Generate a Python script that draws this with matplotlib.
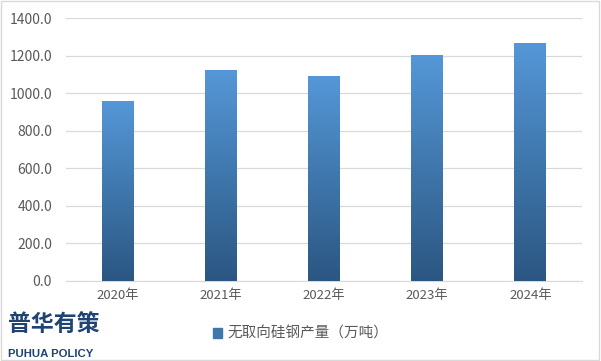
import numpy as np
import matplotlib.pyplot as plt
from matplotlib.colors import LinearSegmentedColormap
from matplotlib.patches import Rectangle

plt.rcParams['font.family'] = ['Noto Sans CJK SC', 'DejaVu Sans']

years = ["2020年", "2021年", "2022年", "2023年", "2024年"]
output = [958, 1123, 1091, 1203, 1267]
series_name = "无取向硅钢产量（万吨）"

fig = plt.figure(figsize=(6.01, 3.61), dpi=100)
ax = fig.add_axes([66/601, 1 - 281/361, (582-66)/601, (281-18)/361])

x = np.arange(len(years))
bars = ax.bar(x, output, width=0.31, color='none', zorder=3)

# vertical gradient inside each bar
cmap = LinearSegmentedColormap.from_list("blu", ["#2b5682", "#3f77ac", "#5597d8"])
grad = np.linspace(0, 1, 256).reshape(-1, 1)
for b in bars:
    x0, w, h = b.get_x(), b.get_width(), b.get_height()
    im = ax.imshow(grad, cmap=cmap, origin='lower', aspect='auto',
                   extent=[x0, x0 + w, 0, h], zorder=3)
    im.set_clip_path(b)

ax.set_xlim(-0.5, len(years) - 0.5)
ax.set_ylim(0, 1400)
ax.set_yticks(np.arange(0, 1401, 200))
ax.set_yticklabels([f"{v:.1f}" for v in np.arange(0, 1401, 200)])
ax.set_xticks(x)
ax.set_xticklabels(years)
ax.yaxis.grid(True, color='#d9d9d9', linewidth=0.9, zorder=0)
ax.set_axisbelow(True)
for s in ['top', 'right', 'left']:
    ax.spines[s].set_visible(False)
ax.spines['bottom'].set_color('#d9d9d9')
ax.tick_params(axis='y', length=0, labelsize=10, colors='#595959', pad=10)
ax.tick_params(axis='x', length=0, labelsize=9.5, colors='#595959', pad=6)

# legend
handle = Rectangle((0, 0), 1, 1, color='#3f77ac')
fig.legend([handle], [series_name], loc='center', bbox_to_anchor=(0.5, 1 - 334/361),
           frameon=False, fontsize=10.5, handlelength=0.6, handleheight=0.6,
           handletextpad=0.4, labelcolor='#595959')

# logo
fig.text(8/601, 1 - 331/361, "普华有策", fontsize=16.5, fontweight='heavy',
         color='#1f4373', va='baseline')
fig.text(8/601, 1 - 357/361, "PUHUA POLICY", fontsize=8.2, fontweight='bold',
         color='#1f4373', va='baseline', family=['Liberation Sans', 'DejaVu Sans'])

# outer border
fig.patches.append(Rectangle((0.002, 0.003), 0.995, 0.994, transform=fig.transFigure,
                             fill=False, edgecolor='#d9d9d9', linewidth=1))

fig.savefig("out.png", dpi=100)
